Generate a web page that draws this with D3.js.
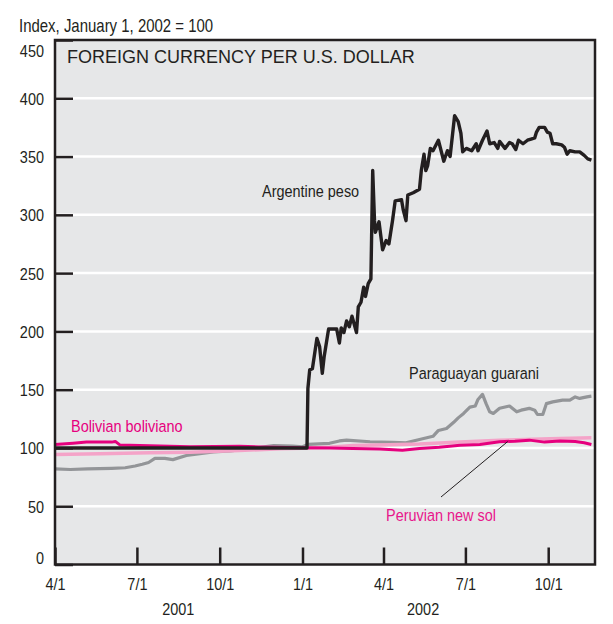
<!DOCTYPE html>
<html><head><meta charset="utf-8">
<script src="https://cdn.jsdelivr.net/npm/d3@7"></script>
<style>
body{margin:0;background:#fff}
svg{display:block}
text{font-family:"Liberation Sans",Arial,Helvetica,sans-serif;}
</style></head><body><svg id="c" width="613" height="624"></svg>
<script>
// ---------- DATA ----------
const pesoDates = ["2001-04-01","2002-01-06","2002-01-07","2002-01-09","2002-01-12","2002-01-17","2002-01-20","2002-01-23","2002-01-25","2002-01-30","2002-02-08","2002-02-11","2002-02-13","2002-02-16","2002-02-19","2002-02-22","2002-02-25","2002-03-02","2002-03-04","2002-03-07","2002-03-10","2002-03-12","2002-03-15","2002-03-18","2002-03-20","2002-03-22","2002-03-23","2002-03-27","2002-03-31","2002-04-04","2002-04-07","2002-04-11","2002-04-14","2002-04-21","2002-04-23","2002-04-26","2002-04-28","2002-05-04","2002-05-11","2002-05-13","2002-05-16","2002-05-18","2002-05-20","2002-05-23","2002-05-26","2002-06-01","2002-06-04","2002-06-07","2002-06-11","2002-06-14","2002-06-16","2002-06-19","2002-06-23","2002-06-26","2002-06-28","2002-07-02","2002-07-08","2002-07-13","2002-07-15","2002-07-20","2002-07-25","2002-07-28","2002-08-02","2002-08-06","2002-08-08","2002-08-14","2002-08-19","2002-08-22","2002-08-26","2002-08-29","2002-09-03","2002-09-08","2002-09-12","2002-09-16","2002-09-18","2002-09-21","2002-09-27","2002-09-30","2002-10-03","2002-10-06","2002-10-10","2002-10-16","2002-10-19","2002-10-22","2002-10-25","2002-10-31","2002-11-05","2002-11-10","2002-11-14","2002-11-18"];
const pesoValues = [100,100,151,167,168,194,187,164,178,202,202,190,203,199,209,204,213,199,221,225,238,230,241,245,338,295,285,294,270,278,275,295,312,313,304,295,317,319,322,338,352,338,342,357,355,364,355,346,355,350,364,385,380,370,354,357,355,361,355,364,372,361,362,357,363,357,362,361,356,364,361,364,365,366,371,375,375,371,370,361,361,360,358,352,355,354,354,351,348,347];

const guaraniDates = ["2001-04-01","2001-04-18","2001-05-07","2001-06-03","2001-06-18","2001-06-29","2001-07-07","2001-07-14","2001-07-21","2001-08-01","2001-08-10","2001-08-25","2001-09-09","2001-09-24","2001-10-13","2001-10-29","2001-11-15","2001-11-30","2001-12-21","2002-01-01","2002-01-07","2002-01-31","2002-02-11","2002-02-19","2002-03-17","2002-04-11","2002-04-26","2002-05-11","2002-05-26","2002-06-01","2002-06-10","2002-06-18","2002-06-23","2002-06-29","2002-07-06","2002-07-12","2002-07-15","2002-07-20","2002-07-24","2002-07-28","2002-08-01","2002-08-08","2002-08-19","2002-08-27","2002-09-01","2002-09-10","2002-09-16","2002-09-19","2002-09-25","2002-09-29","2002-10-06","2002-10-17","2002-10-25","2002-10-31","2002-11-05","2002-11-13","2002-11-18"];
const guaraniValues = [82,81.5,82,82.5,83,84.5,86,87.5,91,91,90,93.5,95,96.5,97.5,99,100.5,102,101.5,101,103,104,106,106.7,105.3,104.7,104.4,107.3,110,115,116.7,122,125.8,129.6,135,136,141.6,146,138,131,129.6,134,136,131,132.4,134,132.4,128.7,128.7,138,139.5,141,141,143.8,142.5,143.8,144.4];

const solDates = ["2001-04-01","2001-05-21","2001-07-15","2001-08-29","2001-10-23","2001-12-07","2002-01-01","2002-01-31","2002-02-26","2002-04-08","2002-05-11","2002-06-25","2002-08-08","2002-10-03","2002-11-18"];
const solValues = [94.4,95,95.8,96.3,97.8,99.3,99.7,100.5,102,102.8,103.3,105,106.5,107.8,108.8];

const bolivianoDates = ["2001-04-01","2001-04-21","2001-05-06","2001-06-03","2001-06-07","2001-06-12","2001-07-04","2001-08-29","2001-10-23","2001-11-15","2001-12-29","2002-01-31","2002-02-26","2002-03-28","2002-04-22","2002-05-11","2002-06-02","2002-06-25","2002-07-17","2002-08-08","2002-08-25","2002-09-10","2002-09-27","2002-10-14","2002-10-31","2002-11-10","2002-11-18"];
const bolivianoValues = [103,104,105,105,105.6,102.6,102,101,101.4,100.8,100.2,100,99.6,99,98,99.6,100.5,102.4,103,105.3,105.8,106.7,105,106,105.5,104.5,103];

const yTicks = [0,50,100,150,200,250,300,350,400,450];
const xTickDates = ["2001-04-01","2001-07-01","2001-10-01","2002-01-01","2002-04-01","2002-07-01","2002-10-01"];
const yearLabels = ["2001","2002"];
const yearCenters = ["2001-08-16","2002-05-15"];
const xDomain = ["2001-04-01","2002-11-22"];

const chartTitle = "FOREIGN CURRENCY PER U.S. DOLLAR";
const yAxisTitle = "Index, January 1, 2002 = 100";

// ---------- DRAW ----------
const parse = d3.utcParse("%Y-%m-%d");
const svg = d3.select("#c");
const L = 55, R = 595, T = 40, B = 564.5;
const SX = 0.85; // condensed look
const x = d3.scaleUtc().domain(xDomain.map(parse)).range([L, R]);
const y = d3.scaleLinear().domain([0, 450]).range([B, T]);
const ink = "#231f20";

function narrowText(g, tx, ty, str, size, color, anchor) {
  return g.append("text").attr("transform", `translate(${tx},${ty}) scale(${SX},1)`)
    .attr("font-size", size).attr("fill", color).attr("text-anchor", anchor || "start").text(str);
}

svg.append("rect").attr("x", L).attr("y", T).attr("width", R - L).attr("height", B - T).attr("fill", "#e6e7e8");

// gridlines
svg.append("g").selectAll("line").data(yTicks.filter(v => v > 0 && v < 450)).join("line")
  .attr("x1", L).attr("x2", R).attr("y1", d => y(d)).attr("y2", d => y(d))
  .attr("stroke", "#fff").attr("stroke-width", 2.5);

const mk = (dates, vals) => dates.map((d, i) => ({ d: parse(d), v: vals[i] }));
const line = d3.line().x(p => x(p.d)).y(p => y(p.v));
const series = [
  { data: mk(guaraniDates, guaraniValues), color: "#939598", w: 3.2 },
  { data: mk(solDates, solValues), color: "#f4a3c8", w: 3.5 },
  { data: mk(bolivianoDates, bolivianoValues), color: "#e6007e", w: 3 },
  { data: mk(pesoDates, pesoValues), color: ink, w: 3.4 }
];
series.forEach(s => {
  svg.append("path").datum(s.data).attr("d", line).attr("fill", "none")
    .attr("stroke", s.color).attr("stroke-width", s.w).attr("stroke-linejoin", "round");
});

// y axis
const yAxis = d3.axisLeft(y).tickValues(yTicks).tickSize(-18).tickPadding(13).tickFormat(d3.format("d"));
const gy = svg.append("g").attr("transform", `translate(${L},0)`).call(yAxis);
gy.select(".domain").remove();
gy.selectAll(".tick line").attr("stroke", ink).attr("stroke-width", 2.5);
gy.selectAll(".tick text").attr("fill", ink).attr("font-size", 17).attr("font-family", null)
  .attr("transform", `scale(${SX},1)`)
  .attr("dy", d => d === 450 ? "1.0em" : d === 0 ? "-0.05em" : "0.35em");

// x axis
const xAxis = d3.axisBottom(x).tickValues(xTickDates.map(parse)).tickSize(-17).tickPadding(13.5)
  .tickFormat(d3.utcFormat("%-m/%-d"));
const gx = svg.append("g").attr("transform", `translate(0,${B})`).call(xAxis);
gx.select(".domain").remove();
gx.selectAll(".tick line").attr("stroke", ink).attr("stroke-width", 2.5);
gx.selectAll(".tick text").attr("fill", ink).attr("font-size", 17).attr("font-family", null)
  .attr("transform", `scale(${SX},1)`);

const gyear = svg.append("g");
yearLabels.forEach((t, i) => narrowText(gyear, x(parse(yearCenters[i])), 615, t, 17, ink, "middle"));

// frame
svg.append("rect").attr("x", L).attr("y", T).attr("width", R - L).attr("height", B - T)
  .attr("fill", "none").attr("stroke", ink).attr("stroke-width", 2.5);

// titles
narrowText(svg, 19, 32, yAxisTitle, 17.6, ink);
svg.append("text").attr("x", 67).attr("y", 63).attr("font-size", 18).attr("fill", ink).text(chartTitle);

// series labels
const labels = [
  { t: "Argentine peso", x: 262, y: 197, c: ink },
  { t: "Paraguayan guarani", x: 409, y: 379, c: ink },
  { t: "Bolivian boliviano", x: 71, y: 432, c: "#e6007e" },
  { t: "Peruvian new sol", x: 386, y: 521, c: "#e8168b" }
];
const gl = svg.append("g");
labels.forEach(d => narrowText(gl, d.x, d.y, d.t, 17, d.c));

// leader line for Peruvian new sol
svg.append("line").attr("x1", 441).attr("y1", 497).attr("x2", x(parse("2002-08-17"))).attr("y2", y(105.5))
  .attr("stroke", ink).attr("stroke-width", 1);
</script></body></html>
